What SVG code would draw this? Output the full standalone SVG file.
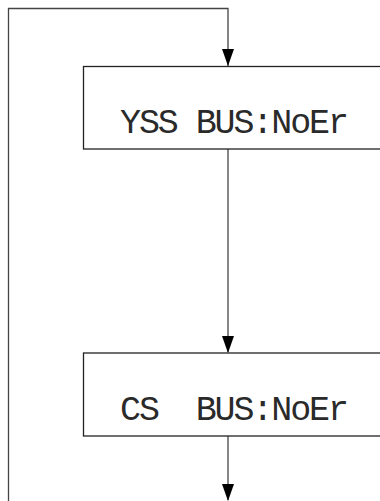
<svg xmlns="http://www.w3.org/2000/svg" width="380" height="501" viewBox="0 0 380 501">
<style>
.box{fill:#fff;stroke:#222;stroke-width:1.3}
.lcd{font-family:"Liberation Mono","DejaVu Sans Mono",monospace;font-size:35px;fill:#2a2a2a}
.con{fill:none;stroke:#444;stroke-width:1.3}
.head{fill:#000}
</style>
<g id="connectors">
<polyline class="con" points="8.5,501 8.5,8.5 228,8.5 228,66"/>
<path class="head" d="M222,49 L234,49 L228,66 Z"/>
<line class="con" x1="228" y1="149" x2="228" y2="352"/>
<path class="head" d="M222,336 L234,336 L228,353 Z"/>
<line class="con" x1="228" y1="436" x2="228" y2="500"/>
<path class="head" d="M222,484 L234,484 L228,501 Z"/>
</g>
<g id="node-yss">
<rect class="box" x="83.5" y="66.5" width="320" height="82.5"/>
<text class="lcd" x="120" y="133" textLength="229" lengthAdjust="spacing" xml:space="preserve">YSS BUS:NoEr</text>
</g>
<g id="node-cs">
<rect class="box" x="83.5" y="353" width="320" height="83"/>
<text class="lcd" x="120" y="420" textLength="229" lengthAdjust="spacing" xml:space="preserve">CS  BUS:NoEr</text>
</g>
</svg>
